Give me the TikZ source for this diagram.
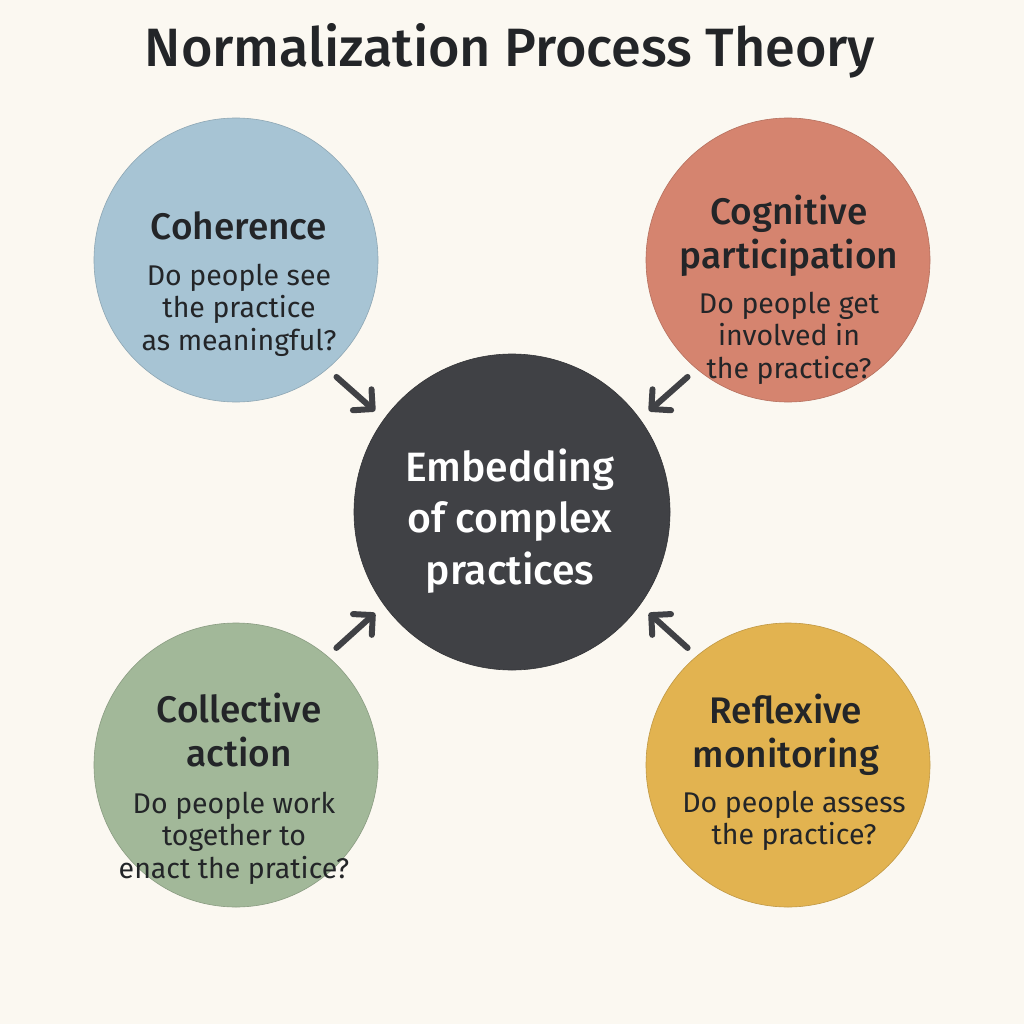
\documentclass[tikz,border=0pt]{standalone}
\usepackage{fontspec}
\setmainfont{Fira Sans}[BoldFont={Fira Sans Medium}]
\usepackage{tikz}
\usetikzlibrary{arrows.meta,positioning,calc}

\definecolor{paper}{HTML}{FBF8F1}
\definecolor{cohblue}{HTML}{A7C4D4}
\definecolor{cogred}{HTML}{D5846F}
\definecolor{colgreen}{HTML}{A2B899}
\definecolor{refyellow}{HTML}{E2B350}
\definecolor{coregray}{HTML}{404145}
\definecolor{ink}{HTML}{232528}

\begin{document}
\begin{tikzpicture}[x=1pt, y=-1pt,
  blob/.style={circle, inner sep=0pt, minimum size=284pt, draw=#1!85!black, line width=0.6pt, fill=#1},
  head/.style={inner sep=0pt, align=center, text=ink, font=\bfseries\fontsize{37}{44}\selectfont},
  ask/.style={inner sep=0pt, align=center, text=ink, font=\fontsize{28.5}{32.5}\selectfont},
  feed/.style={-{Straight Barb[length=14pt, width=28pt, line cap=round, line join=round]}, line width=6pt, line cap=round, coregray, shorten <=12pt, shorten >=12pt}]
\fill[paper] (0,0) rectangle (1024,1024);
\node[inner sep=0pt, anchor=base, text=ink, font=\bfseries\fontsize{54}{60}\selectfont] (title) at (510,67) {Normalization Process Theory};
% the four mechanisms round the core
\node[blob=cohblue] (coh) at (236,260) {};
\node[blob=cogred] (cog) at (788,260) {};
\node[blob=colgreen] (col) at (236,765) {};
\node[blob=refyellow] (refl) at (788,765) {};
\node[circle, inner sep=0pt, minimum size=316pt, fill=coregray, draw=coregray!80!black, line width=0.6pt] (core) at (512,512) {};
\node[align=center, inner sep=0pt, text=white, font=\bfseries\fontsize{41}{51.5}\selectfont] (coretxt) at (510,521) {Embedding\\of complex\\practices};
\node[head] (cohhead) at (239,226) {Coherence};
\node[ask] (cohask) at (239,310) {Do people see\\the practice\\as meaningful?};
\node[head] (coghead) at (789,236) {Cognitive\\participation};
\node[ask] (cogask) at (789,338) {Do people get\\involved in\\the practice?};
\node[head] (colhead) at (239,730) {Collective\\action};
\node[ask] (colask) at (234,838) {Do people work\\together to\\enact the pratice?};
\node[head] (reflhead) at (786,735) {Reflexive\\monitoring};
\node[ask] (reflask) at (794,821) {Do people assess\\the practice?};
\draw[feed] (coh.-50) -- (core.144);
\draw[feed] (cog.-130) -- (core.36);
\draw[feed] (col.50) -- (core.-144);
\draw[feed] (refl.130) -- (core.-36);
\end{tikzpicture}
\end{document}
